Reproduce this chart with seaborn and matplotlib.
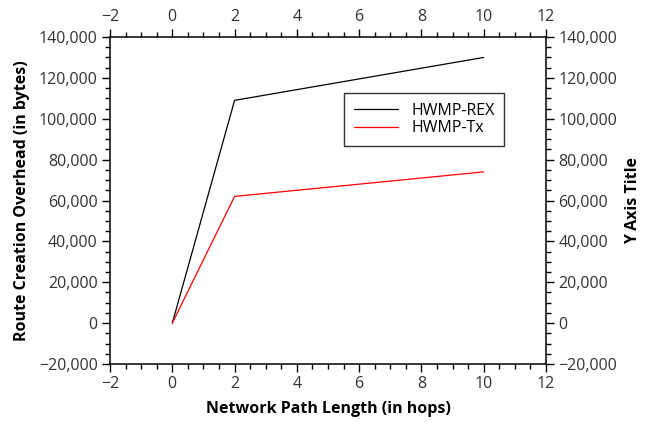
import seaborn as sns
import matplotlib.pyplot as plt
import pandas as pd
from matplotlib.ticker import MultipleLocator, FuncFormatter

# values
hops = [0, 2, 10]
rex = [0, 109000, 130000]
tx = [0, 62000, 74000]

df = pd.DataFrame({
    "hops": hops + hops,
    "overhead": rex + tx,
    "protocol": ["HWMP-REX"] * 3 + ["HWMP-Tx"] * 3,
})

sns.set_style("ticks")
plt.rcParams["font.family"] = ["Open Sans", "DejaVu Sans"]

fig = plt.figure(figsize=(6.51, 4.23), dpi=100)
ax = fig.add_axes([0.169, 0.1395, 0.6697, 0.773])

sns.lineplot(data=df, x="hops", y="overhead", hue="protocol",
             palette={"HWMP-REX": "black", "HWMP-Tx": "red"},
             linewidth=0.9, ax=ax)

ax.set_xlim(-2, 12)
ax.set_ylim(-20000, 140000)
ax.xaxis.set_major_locator(MultipleLocator(2))
ax.xaxis.set_minor_locator(MultipleLocator(0.5))
ax.yaxis.set_major_locator(MultipleLocator(20000))
ax.yaxis.set_minor_locator(MultipleLocator(5000))
fmt = FuncFormatter(lambda v, p: f"{int(v):,}".replace("-", "\u2212"))
ax.yaxis.set_major_formatter(fmt)
ax.xaxis.set_major_formatter(FuncFormatter(lambda v, p: f"{int(v)}".replace("-", "\u2212")))

ax.tick_params(which="both", direction="out", top=True, right=True,
               labeltop=True, labelright=True, labelsize=11.5, colors="#333333",
               pad=3)
ax.tick_params(which="major", length=6, width=1, color="black")
ax.tick_params(which="minor", length=3.5, width=1, color="black")
for s in ax.spines.values():
    s.set_linewidth(1.1)
    s.set_color("black")

ax.set_xlabel("Network Path Length (in hops)", fontsize=11.5, fontweight="bold",
              labelpad=6, color="black")
ax.set_ylabel("Route Creation Overhead (in bytes)", fontsize=11.5, fontweight="bold",
              labelpad=6, color="black")
fig.text(0.972, 0.526, "Y Axis Title", rotation=90, ha="center", va="center",
         fontsize=11.5, fontweight="bold", color="black")

leg = ax.legend(loc="upper left", bbox_to_anchor=(0.537, 0.829), frameon=True,
                fancybox=False, fontsize=11.5, handlelength=2.8, borderpad=0.6,
                labelspacing=0.12, borderaxespad=0)
leg.get_frame().set_edgecolor("black")
leg.get_frame().set_linewidth(1)
for t in leg.get_texts():
    t.set_color("black")

fig.savefig("out.png", dpi=100)
